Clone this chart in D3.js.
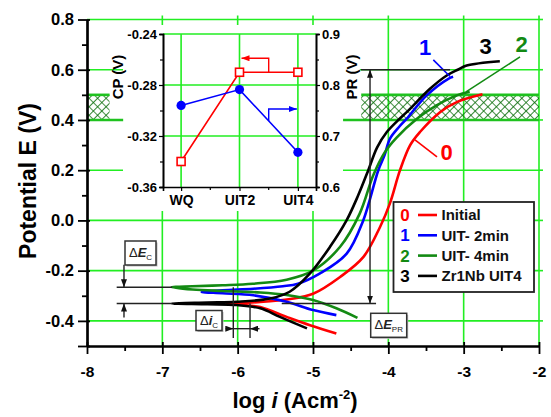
<!DOCTYPE html>
<html>
<head>
<meta charset="utf-8">
<script src="https://cdn.jsdelivr.net/npm/d3@7/dist/d3.min.js"></script>
<style>
body{margin:0;background:#fff}
svg text{font-family:"Liberation Sans",Arial,sans-serif;font-weight:bold}
</style>
</head>
<body>
<div id="chart"></div>
<script>
var WIDTH = 551
var HEIGHT = 417

// main plot data
var xTicks = [-8,-7,-6,-5,-4,-3,-2]
var yTicks = [-0.4,-0.2,0,0.2,0.4,0.6,0.8]
var curveIds = ["0","1","2","3"]
var curveNames = ["Initial","UIT- 2min","UIT- 4min","Zr1Nb UIT4"]
// [log i, E] from cathodic end -> Ecorr tip -> anodic end
var initial = [[-4.69,-0.45],[-5.04,-0.417],[-5.35,-0.384],[-5.70,-0.345],[-5.95,-0.336],[-6.145,-0.331],
  [-5.95,-0.328],[-5.7,-0.325],[-5.3,-0.313],[-5.0,-0.292],[-4.64,-0.225],[-4.33,-0.145],[-4.11,-0.026],
  [-3.98,0.067],[-3.845,0.2],[-3.712,0.299],[-3.58,0.352],[-3.314,0.431],[-3.092,0.471],[-2.75,0.502]]
var uit2 = [[-4.69,-0.377],[-5.0,-0.357],[-5.35,-0.324],[-5.79,-0.298],[-6.2,-0.29],[-6.477,-0.285],
  [-6.2,-0.278],[-5.79,-0.272],[-5.4,-0.262],[-5.2,-0.252],[-4.907,-0.211],[-4.553,-0.132],[-4.332,0.001],
  [-4.133,0.2],[-4.05,0.26],[-3.978,0.326],[-3.85,0.375],[-3.756,0.405],[-3.491,0.498],[-3.204,0.564],[-3.14,0.572]]
var uit4 = [[-4.41,-0.388],[-4.69,-0.35],[-5.0,-0.317],[-5.35,-0.297],[-5.7,-0.287],[-6.2,-0.281],[-6.6,-0.275],[-6.876,-0.266],
  [-6.6,-0.262],[-6.2,-0.258],[-5.8,-0.252],[-5.35,-0.236],[-5.0,-0.2],[-4.64,-0.105],[-4.38,0.027],[-4.2,0.18],
  [-4.05,0.27],[-3.89,0.33],[-3.62,0.405],[-3.36,0.458],[-3.09,0.498],[-2.92,0.512]]
var zr1nb = [[-5.08,-0.43],[-5.44,-0.384],[-5.70,-0.35],[-6.01,-0.337],[-6.4,-0.334],[-6.876,-0.331],
  [-6.4,-0.327],[-6.01,-0.324],[-5.57,-0.311],[-5.31,-0.284],[-5.04,-0.211],[-4.774,-0.105],[-4.553,0.001],
  [-4.40,0.1],[-4.266,0.2],[-4.15,0.29],[-4.02,0.352],[-3.85,0.405],[-3.756,0.431],[-3.447,0.524],
  [-3.225,0.577],[-3.071,0.601],[-2.96,0.617],[-2.52,0.634]]
var curves = [initial,uit2,uit4,zr1nb]
var passiveBand = [0.4,0.5]

// inset data
var insetCats = ["WQ","UIT2","UIT4"]
var cpValues = [-0.340,-0.270,-0.270]
var prValues = [0.760,0.791,0.668]
var cpTicks = [-0.36,-0.32,-0.28,-0.24]
var prTicks = [0.6,0.7,0.8,0.9]

var colors = ["#ff0000","#0000ff","#138a13","#000000"]
var GRID = "#22ee22"

// plain hyphen minus like the original
function fmt(spec){
  var f = d3.format(spec)
  return function(d){return f(d).replace("\u2212","-")}
}

var svg = d3.select("#chart").append("svg")
  .attr("width",WIDTH)
  .attr("height",HEIGHT)

var x = d3.scaleLinear().domain([-8,-2]).range([87,539])
var y = d3.scaleLinear().domain([-0.5,0.8]).range([346,19.5])

var defs = svg.append("defs")
defs.append("pattern")
  .attr("id","hatch")
  .attr("width",6).attr("height",6)
  .attr("patternUnits","userSpaceOnUse")
  .attr("patternTransform","rotate(45)")
  .append("path")
  .attr("d","M0,0H6M0,0V6")
  .attr("stroke","#0b6e0b").attr("stroke-width",1.7).attr("fill","none")

function marker(id,color){
  defs.append("marker")
    .attr("id",id)
    .attr("viewBox","0 0 8 6")
    .attr("refX",8).attr("refY",3)
    .attr("markerWidth",8).attr("markerHeight",6)
    .attr("markerUnits","userSpaceOnUse")
    .attr("orient","auto-start-reverse")
    .append("path").attr("d","M0,0L8,3L0,6Z").attr("fill",color)
}
marker("arRed","#ff0000")
marker("arBlue","#0000ff")
marker("arBlack","#111")

// grid
var grid = svg.append("g")
grid.selectAll(".vg").data(xTicks.slice(1)).enter().append("line")
  .attr("x1",function(d){return x(d)}).attr("x2",function(d){return x(d)})
  .attr("y1",y(-0.5)).attr("y2",y(0.8))
  .attr("stroke",GRID).attr("stroke-width",1.6)
grid.selectAll(".hg").data(yTicks).enter().append("line")
  .attr("x1",x(-8)).attr("x2",x(-2))
  .attr("y1",function(d){return y(d)}).attr("y2",function(d){return y(d)})
  .attr("stroke",GRID).attr("stroke-width",1.6)
// top / right green ticks
grid.selectAll(".tt").data(xTicks.slice(1)).enter().append("line")
  .attr("x1",function(d){return x(d)}).attr("x2",function(d){return x(d)})
  .attr("y1",y(0.8)-4).attr("y2",y(0.8))
  .attr("stroke",GRID).attr("stroke-width",1.6)
grid.selectAll(".rt").data(yTicks).enter().append("line")
  .attr("x1",x(-2)).attr("x2",x(-2)+4)
  .attr("y1",function(d){return y(d)}).attr("y2",function(d){return y(d)})
  .attr("stroke",GRID).attr("stroke-width",1.6)

// inset background
svg.append("rect").attr("x",123).attr("y",25).attr("width",220).attr("height",186).attr("fill","#fff")
svg.append("rect").attr("x",343).attr("y",45).attr("width",17).attr("height",49).attr("fill","#fff")

// passive band
var bandParts = [[-8,-7.7,-7.52],[-4.36,-2,-4.6]]
bandParts.forEach(function(b){
  svg.append("rect")
    .attr("x",x(b[0])).attr("width",x(b[1])-x(b[0]))
    .attr("y",y(passiveBand[1])).attr("height",y(passiveBand[0])-y(passiveBand[1]))
    .attr("fill","url(#hatch)")
  svg.append("line")
    .attr("x1",x(b[0])).attr("x2",x(b[1]))
    .attr("y1",y(passiveBand[1])).attr("y2",y(passiveBand[1]))
    .attr("stroke","#1fc21f").attr("stroke-width",2.6)
})
svg.append("line").attr("x1",x(-8)).attr("x2",x(-7.52))
  .attr("y1",y(passiveBand[0])).attr("y2",y(passiveBand[0]))
  .attr("stroke","#1fc21f").attr("stroke-width",2.6)
svg.append("line").attr("x1",x(-4.6)).attr("x2",x(-2))
  .attr("y1",y(passiveBand[0])).attr("y2",y(passiveBand[0]))
  .attr("stroke","#1fc21f").attr("stroke-width",2.6)

// ---------- inset ----------
var ix = d3.scalePoint().domain(insetCats).range([163,316]).padding(0.31)
var iyL = d3.scaleLinear().domain([-0.36,-0.24]).range([187,34])
var iyR = d3.scaleLinear().domain([0.6,0.9]).range([187,34])
var inset = svg.append("g")

inset.selectAll(".ihg").data(cpTicks.slice(1)).enter().append("line")
  .attr("x1",163).attr("x2",316)
  .attr("y1",function(d){return iyL(d)}).attr("y2",function(d){return iyL(d)})
  .attr("stroke",GRID).attr("stroke-width",1.6)
inset.selectAll(".ivg").data(insetCats).enter().append("line")
  .attr("x1",function(d){return ix(d)}).attr("x2",function(d){return ix(d)})
  .attr("y1",34).attr("y2",187)
  .attr("stroke",GRID).attr("stroke-width",1.6)

var iLeft = inset.append("g").attr("transform","translate(163,0)")
  .call(d3.axisLeft(iyL).tickValues(cpTicks).tickSize(4).tickPadding(2).tickFormat(fmt(".2f")))
var iLeftMinor = inset.append("g").attr("transform","translate(163,0)")
  .call(d3.axisLeft(iyL).tickValues([-0.34,-0.30,-0.26]).tickSize(3).tickFormat(""))
var iRight = inset.append("g").attr("transform","translate(316,0)")
  .call(d3.axisRight(iyR).tickValues(prTicks).tickSize(4).tickPadding(2).tickFormat(fmt(".1f")))
var iRightMinor = inset.append("g").attr("transform","translate(316,0)")
  .call(d3.axisRight(iyR).tickValues([0.65,0.75,0.85]).tickSize(3).tickFormat(""))
var iBottom = inset.append("g").attr("transform","translate(0,187)")
  .call(d3.axisBottom(ix).tickSize(4).tickPadding(4))
inset.append("g").attr("transform","translate(0,187)")
  .selectAll("line").data([0,1]).enter().append("line")
  .attr("x1",function(i){return (ix(insetCats[i])+ix(insetCats[i+1]))/2})
  .attr("x2",function(i){return (ix(insetCats[i])+ix(insetCats[i+1]))/2})
  .attr("y1",0).attr("y2",3).attr("stroke","#000").attr("stroke-width",1.2)
;[iLeft,iLeftMinor,iRight,iRightMinor,iBottom].forEach(function(a){
  a.select(".domain").attr("stroke","#000").attr("stroke-width",1.6)
  a.selectAll(".tick line").attr("stroke","#000").attr("stroke-width",1.2)
  a.selectAll(".tick text").attr("font-size",13).attr("fill","#000").style("font-family",null)
})
iBottom.selectAll(".tick text").attr("font-size",14)

// CP series (red squares)
inset.append("path")
  .datum(cpValues)
  .attr("d",d3.line().x(function(d,i){return ix(insetCats[i])}).y(function(d){return iyL(d)}))
  .attr("fill","none").attr("stroke","#ff0000").attr("stroke-width",1.6)
inset.selectAll(".sq").data(cpValues).enter().append("rect")
  .attr("x",function(d,i){return ix(insetCats[i])-4})
  .attr("y",function(d){return iyL(d)-4})
  .attr("width",8).attr("height",8)
  .attr("fill","#fff").attr("stroke","#ff0000").attr("stroke-width",1.6)
// PR series (blue dots)
inset.append("path")
  .datum(prValues)
  .attr("d",d3.line().x(function(d,i){return ix(insetCats[i])}).y(function(d){return iyR(d)}))
  .attr("fill","none").attr("stroke","#0000ff").attr("stroke-width",1.6)
inset.selectAll(".dot").data(prValues).enter().append("circle")
  .attr("cx",function(d,i){return ix(insetCats[i])})
  .attr("cy",function(d){return iyR(d)})
  .attr("r",4.6).attr("fill","#0000ff")

// axis pointer arrows
var midX = (ix("UIT2")+ix("UIT4"))/2
inset.append("path")
  .attr("d","M"+midX+","+iyL(-0.27)+"V"+iyL(-0.259)+"H"+(ix("UIT2")+2))
  .attr("fill","none").attr("stroke","#ff0000").attr("stroke-width",1.4)
  .attr("marker-end","url(#arRed)")
var bMid = (iyR(prValues[1])+iyR(prValues[2]))/2
inset.append("path")
  .attr("d","M"+midX+","+bMid+"V"+iyR(0.753)+"H"+(ix("UIT4")-1))
  .attr("fill","none").attr("stroke","#0000ff").attr("stroke-width",1.4)
  .attr("marker-end","url(#arBlue)")

svg.append("text").text("CP (V)")
  .attr("transform","translate(123,77) rotate(-90)")
  .attr("text-anchor","middle").attr("font-size",15)
svg.append("text").text("PR (V)")
  .attr("transform","translate(357,77) rotate(-90)")
  .attr("text-anchor","middle").attr("font-size",15)

// ---------- curves ----------
var line = d3.line()
  .x(function(d){return x(d[0])})
  .y(function(d){return y(d[1])})
  .curve(d3.curveCatmullRom.alpha(0.5))

svg.selectAll(".curve").data(curves).enter().append("path")
  .attr("class","curve")
  .attr("d",line)
  .attr("fill","none")
  .attr("stroke",function(d,i){return colors[i]})
  .attr("stroke-width",2.6)
  .attr("stroke-linejoin","round")

// curve labels and leaders
var labelPos = [[-3.225,0.274],[-3.51,0.69],[-2.229,0.703],[-2.707,0.696]]
var leaders = [[[-3.646,0.321],[-3.354,0.253]],[[-3.403,0.639],[-3.181,0.573]],[[-2.969,0.512],[-2.252,0.651]]]
leaders.forEach(function(l,i){
  svg.append("line")
    .attr("x1",x(l[0][0])).attr("y1",y(l[0][1]))
    .attr("x2",x(l[1][0])).attr("y2",y(l[1][1]))
    .attr("stroke",colors[i]).attr("stroke-width",1.6)
})
svg.selectAll(".clabel").data(labelPos).enter().append("text")
  .attr("x",function(d){return x(d[0])})
  .attr("y",function(d){return y(d[1])})
  .attr("dy","0.36em")
  .attr("text-anchor","middle")
  .attr("font-size",22)
  .attr("fill",function(d,i){return colors[i]})
  .text(function(d,i){return curveIds[i]})

// ---------- annotations ----------
var ann = svg.append("g").attr("stroke","#222").attr("stroke-width",1.4).attr("fill","none")
// dE_PR
var ePit = 0.6, eCorr = -0.331, eCorrTop = -0.266
ann.append("line").attr("x1",x(-4.243)).attr("x2",x(-4.243)).attr("y1",y(ePit)).attr("y2",y(eCorr))
  .attr("marker-start","url(#arBlack)").attr("marker-end","url(#arBlack)")
ann.append("line").attr("x1",x(-4.363)).attr("x2",x(-3.181)).attr("y1",y(ePit)).attr("y2",y(ePit))
ann.append("line").attr("x1",x(-5.415)).attr("x2",x(-4.163)).attr("y1",y(eCorr)).attr("y2",y(eCorr))
// dE_C
ann.append("line").attr("x1",x(-7.606)).attr("x2",x(-6.87)).attr("y1",y(eCorrTop)).attr("y2",y(eCorrTop))
ann.append("line").attr("x1",x(-7.606)).attr("x2",x(-6.87)).attr("y1",y(eCorr)).attr("y2",y(eCorr))
ann.append("line").attr("x1",x(-7.509)).attr("x2",x(-7.509)).attr("y1",y(-0.176)).attr("y2",y(eCorrTop))
  .attr("marker-end","url(#arBlack)")
ann.append("line").attr("x1",x(-7.509)).attr("x2",x(-7.509)).attr("y1",y(-0.387)).attr("y2",y(eCorr))
  .attr("marker-end","url(#arBlack)")
// di_C
var iA = -6.058, iB = -5.836
ann.append("line").attr("x1",x(iA)).attr("x2",x(iA)).attr("y1",y(eCorrTop)).attr("y2",y(-0.468))
ann.append("line").attr("x1",x(iB)).attr("x2",x(iB)).attr("y1",y(eCorr)).attr("y2",y(-0.468))
ann.append("line").attr("x1",x(-6.16)).attr("x2",x(iA)).attr("y1",y(-0.431)).attr("y2",y(-0.431))
  .attr("marker-end","url(#arBlack)")
ann.append("line").attr("x1",x(iA)).attr("x2",x(iB)).attr("y1",y(-0.431)).attr("y2",y(-0.431))
ann.append("line").attr("x1",x(-5.71)).attr("x2",x(iB)).attr("y1",y(-0.431)).attr("y2",y(-0.431))
  .attr("marker-end","url(#arBlack)")

function annBox(cx,cy,w,h,main,sub){
  var g = svg.append("g").attr("transform","translate("+cx+","+cy+")")
  g.append("rect").attr("x",-w/2+1.5).attr("y",-h/2+1.5).attr("width",w).attr("height",h).attr("fill","#bbb")
  g.append("rect").attr("x",-w/2).attr("y",-h/2).attr("width",w).attr("height",h)
    .attr("fill","#fff").attr("stroke","#333").attr("stroke-width",1.5)
  var t = g.append("text").attr("text-anchor","middle").attr("y",4).attr("font-size",13).attr("fill","#222")
  t.append("tspan").text("\u0394").attr("font-weight","normal")
  t.append("tspan").text(main).attr("font-style","italic")
  t.append("tspan").text(sub).attr("font-size",8).attr("dy",3).attr("font-weight","normal")
}
annBox(140.5,253,31,24,"E","C")
annBox(209,320.5,26,20,"i","C")
annBox(388.7,325.3,36,24,"E","PR")

// ---------- legend ----------
var legend = svg.append("g").attr("transform","translate(393.5,202)")
legend.append("rect").attr("width",140.5).attr("height",90)
  .attr("fill","#fff").attr("stroke","#222").attr("stroke-width",1.8)
var items = legend.selectAll(".item").data(curveNames).enter().append("g")
  .attr("transform",function(d,i){return "translate(0,"+(13+i*20.3)+")"})
items.append("text").attr("x",11.5).attr("dy","0.36em").attr("text-anchor","middle")
  .attr("font-size",17).attr("fill",function(d,i){return colors[i]})
  .text(function(d,i){return curveIds[i]})
items.append("line").attr("x1",24.5).attr("x2",43.5)
  .attr("stroke",function(d,i){return colors[i]}).attr("stroke-width",2.6)
items.append("text").attr("x",48).attr("dy","0.36em").attr("font-size",15).attr("fill","#111")
  .text(function(d){return d})

// ---------- main axes ----------
var xAxis = svg.append("g").attr("transform","translate(0,346)")
  .call(d3.axisBottom(x).tickValues(xTicks).tickSize(8).tickPadding(12).tickSizeOuter(0).tickFormat(fmt("d")))
var xMinor = svg.append("g").attr("transform","translate(0,346)")
  .call(d3.axisBottom(x).tickValues([-7.5,-6.5,-5.5,-4.5,-3.5,-2.5]).tickSize(5).tickFormat("").tickSizeOuter(0))
var yAxis = svg.append("g").attr("transform","translate(87,0)")
  .call(d3.axisLeft(y).tickValues(yTicks.concat([-0.5])).tickSize(9).tickPadding(4).tickSizeOuter(0)
    .tickFormat(function(d){return d==-0.5?"":fmt(".1f")(d)}))
var yMinor = svg.append("g").attr("transform","translate(87,0)")
  .call(d3.axisLeft(y).tickValues([-0.3,-0.1,0.1,0.3,0.5,0.7]).tickSize(5).tickFormat("").tickSizeOuter(0))
;[xAxis,xMinor,yAxis,yMinor].forEach(function(a){
  a.select(".domain").attr("stroke","#000").attr("stroke-width",2.2)
  a.selectAll(".tick line").attr("stroke","#000").attr("stroke-width",1.8)
  a.selectAll(".tick text").attr("fill","#000").style("font-family",null)
})
xAxis.selectAll(".tick text").attr("font-size",15.5)
yAxis.selectAll(".tick text").attr("font-size",16.5)
// inner part of major ticks
xAxis.selectAll(".tick").append("line").attr("y1",0).attr("y2",-4).attr("stroke","#000").attr("stroke-width",1.8)
yAxis.selectAll(".tick").append("line").attr("x1",0).attr("x2",3).attr("stroke","#000").attr("stroke-width",1.8)

svg.append("text")
  .attr("transform","translate(36,181) rotate(-90)")
  .attr("text-anchor","middle").attr("font-size",23)
  .text("Potential E (V)")
var xt = svg.append("text").attr("x",295).attr("y",408).attr("text-anchor","middle").attr("font-size",22)
xt.append("tspan").text("log ")
xt.append("tspan").text("i").attr("font-style","italic")
xt.append("tspan").text(" (Acm")
xt.append("tspan").text("-2").attr("font-size",13).attr("dy",-9)
xt.append("tspan").text(")").attr("dy",9)
</script>
</body>
</html>
